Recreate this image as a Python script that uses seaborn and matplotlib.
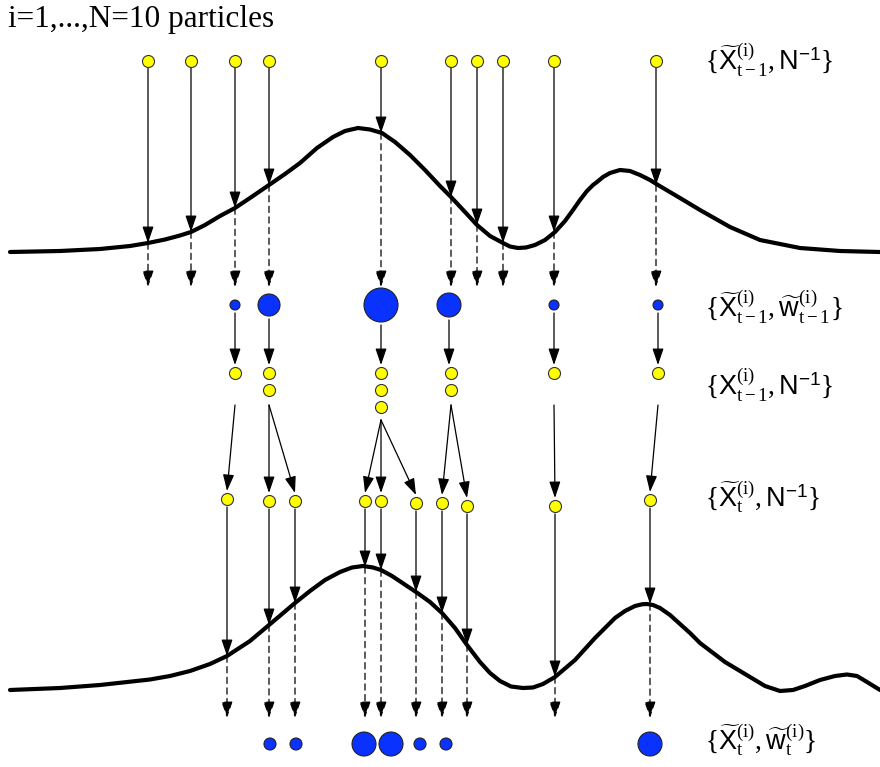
import numpy as np
import pandas as pd
import seaborn as sns
import matplotlib.pyplot as plt

sns.set_theme(style="white")
plt.rcParams["mathtext.fontset"] = "custom"
plt.rcParams["mathtext.rm"] = "Liberation Serif"
plt.rcParams["mathtext.sf"] = "Liberation Sans"
plt.rcParams["mathtext.it"] = "Liberation Serif:italic"
plt.rcParams["text.color"] = "black"

# --- data (pixel coordinates, y grows downward) ---
# density curve at time t-1
curve1_x = [10, 60, 100, 130, 148, 165, 180, 191, 205, 220, 235, 250, 269, 285, 300, 317, 333,
            345, 358, 370, 382, 395, 410, 425, 440, 451, 465, 477, 490, 503, 510, 518, 526, 535,
            545, 555, 565, 573, 580, 587, 593, 597, 603, 610, 620, 630, 640, 650, 658, 680, 700,
            730, 760, 800, 840, 880]
curve1_y = [252, 251, 249, 246, 243, 239.5, 235.5, 232, 225, 216, 208, 198, 185, 174, 163, 148,
            137, 131, 128, 129.5, 133, 142, 155, 170, 186, 197, 212, 225, 236, 243, 246.5, 248,
            247.5, 245, 240, 232, 221, 210, 200, 191, 185, 182, 177, 173, 170, 171, 175, 180, 185,
            198, 210, 227, 240, 248, 251, 252]
# density curve at time t
curve2_x = [10, 60, 100, 150, 170, 190, 210, 227, 250, 269, 295, 310, 325, 340, 352, 363, 373,
            381, 392, 404, 416, 430, 442, 455, 467, 480, 490, 500, 511, 523, 533, 543, 555, 575,
            595, 615, 625, 635, 642, 647, 653, 660, 670, 680, 690, 700, 725, 750, 765, 780, 793,
            805, 820, 835, 847, 857, 867, 880]
curve2_y = [690, 688, 685, 679.5, 676, 671, 664, 656, 641, 625, 603, 591, 580, 572, 567.5, 566,
            567.5, 570, 576, 584, 592, 602, 613, 628, 645, 662, 673, 681, 686.5, 688, 687.5, 684,
            677, 660, 638, 618, 611, 606, 604.3, 604, 605, 608, 615, 624, 633, 643, 662, 677, 686,
            691, 690, 686, 680, 676, 674.5, 676, 682, 690]

# prior particles {x~_{t-1}, 1/N}
prior_x = [148, 191, 235, 269, 381, 451, 477, 503, 554, 656]
prior_y = 61
prior_hit = [243, 232, 208, 185, 133, 197, 225, 243, 232, 185]

# weighted particles {x~_{t-1}, w~_{t-1}}
w1_x = [235, 269, 381, 449, 554, 658]
w1_r = [5, 11, 17, 12, 5, 5]
w1_y = 305

# resampled particles {x_{t-1}, 1/N}
res_x = [235, 269, 381, 451, 554, 658]
res_n = [1, 2, 3, 2, 1, 1]

# resampling moves (source column -> predicted particle)
move_src = [235, 269, 269, 381, 381, 381, 451, 451, 554, 658]
move_src_y = [405, 405, 405, 420, 420, 420, 405, 405, 405, 405]

# predicted particles {x~_t, 1/N}
pred_x = [227, 269, 295, 365, 381, 416, 442, 467, 555, 650]
pred_y = [499, 501, 501, 501, 501, 503, 503, 506, 506, 500]
pred_hit = [656, 625, 603, 567, 570, 592, 613, 645, 677, 604]

# weighted particles {x~_t, w~_t}
w2_x = [270, 296, 364, 391, 420, 446, 650]
w2_r = [6, 6, 12, 12, 6, 6, 12]
w2_y = 744

YELLOW = "#ffff00"
BLUE = "#0a32ff"

fig = plt.figure(figsize=(8.8, 7.67), dpi=100)
ax = fig.add_axes([0, 0, 1, 1])
ax.set_xlim(0, 880)
ax.set_ylim(767, 0)
ax.axis("off")


def arrow(x0, y0, x1, y1, dashed=False):
    ax.annotate("", xy=(x1, y1), xytext=(x0, y0),
                arrowprops=dict(arrowstyle="-|>,head_length=1.0,head_width=0.34",
                                mutation_scale=10, lw=0.9, color="black",
                                linestyle=(0, (5, 3.5)) if dashed else "-",
                                shrinkA=0, shrinkB=0), zorder=2)


def px2s(r):
    return (2 * r * 0.72) ** 2


# curves
sns.lineplot(x=curve1_x, y=curve1_y, sort=False, color="black", lw=3, ax=ax, zorder=3)
sns.lineplot(x=curve2_x, y=curve2_y, sort=False, color="black", lw=3, ax=ax, zorder=3)
for ln in ax.lines:
    ln.set_solid_joinstyle("round")

# prior -> likelihood -> weights
for x, h in zip(prior_x, prior_hit):
    arrow(x, prior_y + 7, x, h)
    arrow(x, h, x, 287, dashed=True)

for x, r in zip(w1_x, w1_r):
    arrow(x, w1_y + r + 3, x, 365)

# resampled stacks
stack = pd.DataFrame({
    "x": np.repeat(res_x, res_n),
    "y": [373 + 17 * k for n in res_n for k in range(n)],
})

for i, (sx, sy) in enumerate(zip(move_src, move_src_y)):
    arrow(sx, sy, pred_x[i], pred_y[i] - 8)

for x, y, h in zip(pred_x, pred_y, pred_hit):
    arrow(x, y + 8, x, h)
    arrow(x, h, x, 718, dashed=True)

# particles
top = pd.DataFrame({"x": prior_x, "y": [prior_y] * len(prior_x)})
sns.scatterplot(data=top, x="x", y="y", s=px2s(6), color=YELLOW, edgecolor="#333333",
                linewidth=0.8, ax=ax, zorder=5)
sns.scatterplot(data=stack, x="x", y="y", s=px2s(6), color=YELLOW, edgecolor="#333333",
                linewidth=0.8, ax=ax, zorder=5)
pred = pd.DataFrame({"x": pred_x, "y": pred_y})
sns.scatterplot(data=pred, x="x", y="y", s=px2s(6), color=YELLOW, edgecolor="#333333",
                linewidth=0.8, ax=ax, zorder=5)

ax.scatter(w1_x, [w1_y] * len(w1_x), s=[px2s(r) for r in w1_r], color=BLUE,
           edgecolor="#222222", linewidth=0.8, zorder=5)
ax.scatter(w2_x, [w2_y] * len(w2_x), s=[px2s(r) for r in w2_r], color=BLUE,
           edgecolor="#222222", linewidth=0.8, zorder=5)

# labels
ax.text(8, 20, "i=1,...,N=10 particles", family="Liberation Serif", fontsize=22.5,
        va="center", ha="left", color="black")

labels = [
    (60, r"$\{\widetilde{\mathsf{X}}^{(\mathrm{i})}_{\mathrm{t-1}},\mathsf{N}^{\mathsf{-1}}\}$"),
    (307, r"$\{\widetilde{\mathsf{X}}^{(\mathrm{i})}_{\mathrm{t-1}},\widetilde{\mathsf{w}}^{(\mathrm{i})}_{\mathrm{t-1}}\}$"),
    (385, r"$\{\mathsf{X}^{(\mathrm{i})}_{\mathrm{t-1}},\mathsf{N}^{\mathsf{-1}}\}$"),
    (497, r"$\{\widetilde{\mathsf{X}}^{(\mathrm{i})}_{\mathrm{t}},\mathsf{N}^{\mathsf{-1}}\}$"),
    (740, r"$\{\widetilde{\mathsf{X}}^{(\mathrm{i})}_{\mathrm{t}},\widetilde{\mathsf{w}}^{(\mathrm{i})}_{\mathrm{t}}\}$"),
]
for y, s in labels:
    ax.text(705, y, s, fontsize=19.5, va="center", ha="left", color="black")

fig.savefig("out.png", dpi=100)
